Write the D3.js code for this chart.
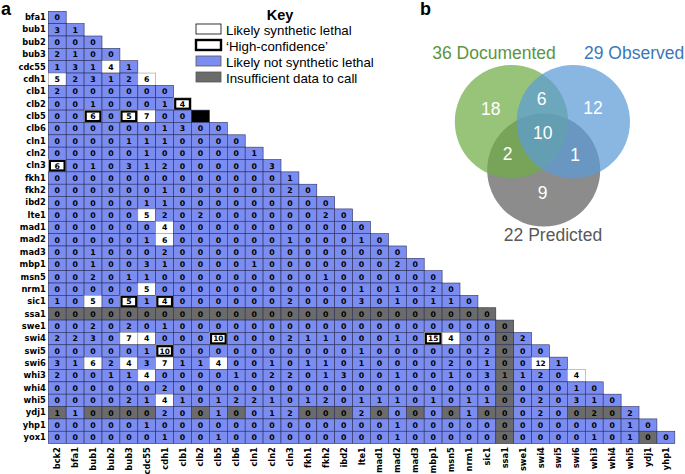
<!DOCTYPE html>
<html>
<head>
<meta charset="utf-8">
<script src="https://cdn.jsdelivr.net/npm/d3@7"></script>
<style>
body { margin: 0; background: #fff; }
svg { display: block; }
.gene { font-family: "DejaVu Sans", sans-serif; font-weight: bold; font-size: 8.3px; fill: #000; }
</style>
</head>
<body>
<svg id="chart" width="685" height="474"></svg>
<script>
// genes down the side and along the bottom
const rowGenes = ["bfa1","bub1","bub2","bub3","cdc55","cdh1","clb1","clb2","clb5","clb6","cln1","cln2","cln3",
  "fkh1","fkh2","ibd2","lte1","mad1","mad2","mad3","mbp1","msn5","nrm1","sic1","ssa1","swe1","swi4","swi5",
  "swi6","whi3","whi4","whi5","ydj1","yhp1","yox1"];
const colGenes = ["bck2","bfa1","bub1","bub2","bub3","cdc55","cdh1","clb1","clb2","clb5","clb6","cln1","cln2",
  "cln3","fkh1","fkh2","ibd2","lte1","mad1","mad2","mad3","mbp1","msn5","nrm1","sic1","ssa1","swe1","swi4",
  "swi5","swi6","whi3","whi4","whi5","ydj1","yhp1"];

// numbers in the cells, one row per gene (lower triangle)
const counts = [
  [0],
  [3,1],
  [0,0,0],
  [2,1,0,0],
  [1,3,1,4,1],
  [5,2,3,1,2,6],
  [2,0,0,0,0,0,0],
  [0,0,1,0,0,0,1,4],
  [0,0,6,0,5,7,0,0,null],
  [0,0,0,0,0,0,1,3,0,0],
  [0,0,0,0,1,1,1,0,0,0,0],
  [0,0,0,0,0,1,0,0,0,0,0,1],
  [6,0,1,0,3,1,2,0,0,0,0,0,3],
  [0,0,0,0,0,0,0,0,0,0,0,0,0,1],
  [0,0,0,0,0,0,1,0,0,0,0,0,0,2,0],
  [0,0,0,0,0,1, 1,0,0,0,0,0,0,0,0, 0],
  [0,0,0,0,0,5, 2,0,2,0,0,0,0,0,0, 2,0],
  [0,0,0,0,0,0, 4,0,0,0,0,0,0,0,0, 0,0,0],
  [0,0,0,0,0,1, 6,0,0,0,0,0,0,1,0, 0,0,1,0],
  [0,0,1,0,0,0, 2,0,0,0,0,0,0,0,0, 0,0,0,0,0],
  [0,0,1,0,0,3, 1,0,0,0,0,1,0,0,0, 0,0,0,0,2,0],
  [0,0,2,0,1,1, 0,0,0,0,0,0,0,0,0, 1,0,0,0,0,0,0],
  [0,0,0,0,0,5, 0,0,0,0,0,0,0,0,0, 0,0,1,0,1,0,2,0],
  [1,0,5,0,5,1, 4,0,0,0,0,0,0,2,0, 0,0,3,0,1,0,1,1,0],
  [0,0,0,0,0,0, 0,0,0,0,0,0,0,0,0, 0,0,0,0,0,0,0,0,0,0],
  [0,0,2,0,2,0, 1,0,0,0,0,0,0,0,0, 0,0,0,0,0,0,0,0,0,0, 0],
  [2,2,3,0,7,4, 0,0,0,10,0,0,0,2,1, 1,0,0,0,1,0,15,4,0,0, 0,2],
  [0,0,0,0,0,1, 10,0,0,0,0,0,0,0,0, 0,0,1,0,0,0,0,0,0,2, 0,0,0],
  [3,1,6,2,4,3, 7,1,1,4,0,0,1,0,1, 1,0,1,0,0,0,0,2,0,1, 0,0,12,1],
  [2,0,0,1,1,4, 0,0,0,0,1,0,2,2,0, 1,3,0,0,1,0,0,1,0,3, 1,1,2,0,4],
  [0,0,0,0,0,0, 2,0,0,0,0,0,0,0,0, 0,0,0,0,0,0,0,0,0,0, 0,0,0,0,1,0],
  [0,0,0,0,2,1, 4,1,0,1,2,2,1,0,1, 2,0,1,1,1,0,1,0,1,1, 0,0,2,0,3,1,0],
  [1,1,0,0,0,0, 2,0,0,1,0,0,1,2,0, 0,0,2,0,0,0,0,0,1,0, 0,0,2,0,0,2,0,2],
  [0,0,0,0,0,1, 0,0,0,0,0,0,0,0,0, 0,0,0,0,1,0,0,0,0,0, 0,0,0,0,0,0,0,1,0],
  [0,0,0,0,0,0, 1,0,0,1,0,0,0,0,0, 0,0,0,0,1,0,0,0,0,0, 0,0,0,0,0,1,0,1,0,0]
];

// call per cell: n = not SL, w = likely SL, h = high-confidence, g = insufficient, k = black
// a row string shorter than the row means the rest are "n"
const N = k => "n".repeat(k);
const calls = [
  "", "", "", "", "nnnw", "wnnnnw", "", "nnnnnnnh", "nnhnhwnnk", "", "", "", "h", "", "", "",
  "nnnnnw", "nnnnnnw", "nnnnnnw", "", "", "", "nnnnnw", "nnwnhnh",
  "g".repeat(25),
  N(25) + "g",
  "nnnnwwnnnh" + N(11) + "hwnngn",
  N(6) + "h" + N(18) + "g",
  "nnwnwnwnnw" + N(15) + "gnw",
  "nnnnnw" + N(19) + "gnnnw",
  N(25) + "g",
  N(6) + "w" + N(18) + "g",
  "gnggggnngngnnngggngngngnggnnngggn",
  N(25) + "g",
  N(25) + "g" + N(7) + "g"
];

const keyLabels = ["Likely synthetic lethal", "\u2018High-confidence\u2019", "Likely not synthetic lethal", "Insufficient data to call"];
const keyCalls = ["w", "h", "n", "g"];

// venn: set labels and region counts
const vennSets = ["36 Documented", "29 Observed", "22 Predicted"];
const vennRegions = ["18", "6", "12", "10", "2", "1", "9"];

const fills = { n: "#7b8df1", w: "#ffffff", h: "#ffffff", g: "#6b6b6b", k: "#000000" };

const svg = d3.select("#chart");

const x = d3.scaleBand().domain(colGenes).range([48.3, 674.8]);
const y = d3.scaleBand().domain(rowGenes).range([11.3, 443.6]);
const bw = x.bandwidth(), bh = y.bandwidth();

const cells = [];
counts.forEach((row, i) => {
  row.forEach((v, j) => {
    cells.push({ r: rowGenes[i], c: colGenes[j], v: v, call: calls[i][j] || "n" });
  });
});

const cellG = svg.append("g");
cellG.selectAll("rect.cell")
  .data(cells)
  .enter().append("rect")
  .attr("class", "cell")
  .attr("x", d => x(d.c))
  .attr("y", d => y(d.r))
  .attr("width", bw)
  .attr("height", bh)
  .attr("fill", d => fills[d.call])
  .attr("stroke", d => (d.call === "w" || d.call === "h") ? "#9a9a9a" : "#2b2f5c")
  .attr("stroke-width", 0.6);

// thick box for high-confidence calls
cellG.selectAll("rect.hc")
  .data(cells.filter(d => d.call === "h"))
  .enter().append("rect")
  .attr("x", d => x(d.c) + 1.6)
  .attr("y", d => y(d.r) + 1.4)
  .attr("width", bw - 3.2)
  .attr("height", bh - 2.8)
  .attr("fill", "#fff")
  .attr("stroke", "#000")
  .attr("stroke-width", 2.2);

cellG.selectAll("text")
  .data(cells.filter(d => d.v !== null))
  .enter().append("text")
  .attr("x", d => x(d.c) + bw / 2)
  .attr("y", d => y(d.r) + bh / 2)
  .attr("dy", "0.36em")
  .attr("text-anchor", "middle")
  .style("font-family", "DejaVu Sans, sans-serif")
  .style("font-weight", "bold")
  .style("font-size", d => d.v >= 10 ? "7.4px" : "7.8px")
  .text(d => d.v);

// row labels
const yAxis = svg.append("g")
  .attr("transform", "translate(48.3,0)")
  .call(d3.axisLeft(y).tickSize(0).tickPadding(2.5));
yAxis.select(".domain").remove();
yAxis.selectAll("text").attr("class", "gene");

// column labels, turned up
const xAxis = svg.append("g")
  .attr("transform", "translate(0,443.6)")
  .call(d3.axisBottom(x).tickSize(0));
xAxis.select(".domain").remove();
xAxis.selectAll("text")
  .attr("class", "gene")
  .attr("transform", "rotate(-90)")
  .attr("text-anchor", "end")
  .attr("x", -3.5)
  .attr("y", 0)
  .attr("dy", "0.36em");

// panel letters
svg.append("text").attr("x", 1).attr("y", 15)
  .style("font-family", "Liberation Sans, Arial, sans-serif").style("font-weight", "bold").style("font-size", "18px")
  .text("a");
svg.append("text").attr("x", 420).attr("y", 15)
  .style("font-family", "Liberation Sans, Arial, sans-serif").style("font-weight", "bold").style("font-size", "18px")
  .text("b");

// key
const key = svg.append("g").attr("transform", "translate(196,0)");
key.append("text").attr("x", 84).attr("y", 20).attr("text-anchor", "middle")
  .style("font-family", "Liberation Sans, Arial, sans-serif").style("font-weight", "bold").style("font-size", "14.5px")
  .text("Key");
const keyRow = key.selectAll("g.item")
  .data(keyLabels)
  .enter().append("g")
  .attr("transform", (d, i) => `translate(0,${24 + i * 16})`);
keyRow.append("rect")
  .attr("width", 25).attr("height", 10)
  .attr("fill", (d, i) => fills[keyCalls[i]])
  .attr("stroke", (d, i) => keyCalls[i] === "n" || keyCalls[i] === "g" ? "#555" : "#000")
  .attr("stroke-width", (d, i) => keyCalls[i] === "h" ? 2.4 : 0.8);
keyRow.append("text")
  .attr("x", 30).attr("y", 10.5)
  .style("font-family", "Liberation Sans, Arial, sans-serif").style("font-size", "13.3px")
  .text(d => d);

// venn
const venn = svg.append("g");
const circles = [
  { cx: 543.7, cy: 170, r: 56.5, fill: "#7f7f7f", op: 0.9 },
  { cx: 511.5, cy: 121.7, r: 56.7, fill: "#70ad47", op: 0.72 },
  { cx: 573.3, cy: 121.7, r: 56.7, fill: "#5b9bd5", op: 0.72 }
];
venn.selectAll("circle")
  .data(circles)
  .enter().append("circle")
  .attr("cx", d => d.cx).attr("cy", d => d.cy).attr("r", d => d.r)
  .attr("fill", d => d.fill).attr("fill-opacity", d => d.op);

const regionPos = [[490.7, 109], [541.7, 99], [593, 108], [542.7, 133], [507.7, 154], [575, 155], [542.7, 193]];
venn.selectAll("text.region")
  .data(vennRegions)
  .enter().append("text")
  .attr("x", (d, i) => regionPos[i][0])
  .attr("y", (d, i) => regionPos[i][1])
  .attr("dy", "0.36em")
  .attr("text-anchor", "middle")
  .style("font-family", "Liberation Sans, Arial, sans-serif").style("font-size", "17.5px")
  .attr("fill", "#fff")
  .text(d => d);

const setLabels = [
  { x: 494, y: 59, anchor: "middle", color: "#5b9541" },
  { x: 584, y: 59, anchor: "start", color: "#3b78b8" },
  { x: 553, y: 241, anchor: "middle", color: "#595959" }
];
venn.selectAll("text.set")
  .data(vennSets)
  .enter().append("text")
  .attr("x", (d, i) => setLabels[i].x)
  .attr("y", (d, i) => setLabels[i].y)
  .attr("text-anchor", (d, i) => setLabels[i].anchor)
  .attr("fill", (d, i) => setLabels[i].color)
  .style("font-family", "Liberation Sans, Arial, sans-serif").style("font-size", "17.5px")
  .text(d => d);
</script>
</body>
</html>
